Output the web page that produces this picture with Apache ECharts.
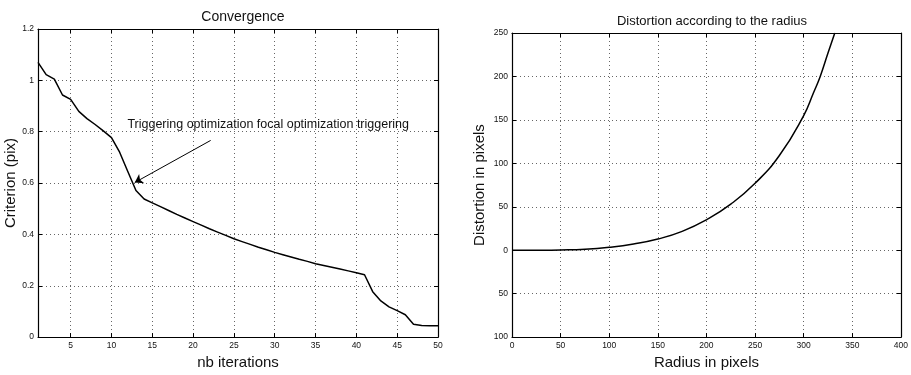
<!DOCTYPE html>
<html>
<head>
<meta charset="utf-8">
<script src="https://cdn.jsdelivr.net/npm/echarts@6.0.0/dist/echarts.min.js"></script>
<style>
  html, body { margin: 0; padding: 0; background: #fff; }
  #main { width: 911px; height: 375px; }
</style>
</head>
<body>
<div id="main"></div>
<script>
// left panel: criterion per iteration
var iterations = [1,2,3,4,5,6,7,8,9,10,11,12,13,14,15,16,17,18,19,20,21,22,23,24,25,
  26,27,28,29,30,31,32,33,34,35,36,37,38,39,40,41,42,43,44,45,46,47,48,49,50]
var criterion = [1.070,1.022,1.005,0.943,0.926,0.879,0.851,0.828,0.803,0.777,0.720,0.645,0.571,0.538,0.523,
  0.508,0.493,0.478,0.464,0.450,0.436,0.422,0.409,0.396,0.383,0.372,0.361,0.350,0.340,0.330,
  0.321,0.312,0.303,0.295,0.286,0.279,0.272,0.265,0.258,0.251,0.243,0.177,0.141,0.118,0.103,
  0.087,0.050,0.045,0.044,0.044]
var iterTicks = [5,10,15,20,25,30,35,40,45,50]

// right panel: distortion vs radius
var radius =     [0, 25,   50,  75,  100, 125, 150,  175,  200, 225, 250, 275, 300, 310, 317, 325, 332]
var distortion = [0, 0.05, 0.3, 1.1, 3.4, 7.2, 12.9, 21.7, 35,  53,  77,  109, 155, 181, 200, 227, 250]

var annotationText = 'Triggering optimization focal optimization triggering'
var textAt = [11.95, 0.826]
var arrowFrom = [22.15, 0.766]
var arrowTo = [12.85, 0.602]

var myChart = echarts.init(document.getElementById('main'))

var font = 'Liberation Sans, Arial, Helvetica, sans-serif'
var ink = '#111'

let axisLine = { show: true, onZero: false, lineStyle: { color: '#000', width: 1.2 } }
let splitLine = { show: true, lineStyle: { color: '#666', type: [1, 3], width: 1 } }
let tickLabel = { color: ink, fontSize: 8.5, fontFamily: font }
let nameStyle = { color: ink, fontSize: 15, fontFamily: font }

let pairs = iterations.map(function (v, i) { return [v, criterion[i]] })
let distPairs = radius.map(function (v, i) { return [v, distortion[i]] })

myChart.setOption({
    animation: false,
    title: [{
        text: 'Convergence',
        left: 238, top: 5, textAlign: 'center',
        textStyle: { fontSize: 14, fontWeight: 'normal', color: ink, fontFamily: font }
    }, {
        text: 'Distortion according to the radius',
        left: 707, top: 10, textAlign: 'center',
        textStyle: { fontSize: 13, fontWeight: 'normal', color: ink, fontFamily: font }
    }],
    grid: [
        { left: 38, right: 473, top: 29, bottom: 31 },
        { left: 512, right: 8, top: 33, bottom: 35 }
    ],
    xAxis: [{
        gridIndex: 0, type: 'value', min: 1, max: 50,
        name: 'nb iterations', nameLocation: 'middle', nameGap: 14, nameTextStyle: nameStyle,
        axisLine: axisLine,
        axisTick: { inside: true, length: 4, customValues: iterTicks },
        axisLabel: Object.assign({ customValues: iterTicks, margin: 4 }, tickLabel),
        splitLine: splitLine
    }, {
        gridIndex: 0, type: 'value', min: 1, max: 50, position: 'top',
        axisLine: axisLine,
        axisTick: { inside: true, length: 4, customValues: iterTicks },
        axisLabel: { show: false, customValues: iterTicks },
        splitLine: { show: false }
    }, {
        gridIndex: 1, type: 'value', min: 0, max: 400, interval: 50,
        name: 'Radius in pixels', nameLocation: 'middle', nameGap: 14, nameTextStyle: nameStyle,
        axisLine: axisLine,
        axisTick: { inside: true, length: 4 },
        axisLabel: Object.assign({ margin: 4 }, tickLabel),
        splitLine: splitLine
    }, {
        gridIndex: 1, type: 'value', min: 0, max: 400, interval: 50, position: 'top',
        axisLine: axisLine,
        axisTick: { inside: true, length: 4 },
        axisLabel: { show: false },
        splitLine: { show: false }
    }],
    yAxis: [{
        gridIndex: 0, type: 'value', min: 0, max: 1.2, interval: 0.2,
        name: 'Criterion (pix)', nameLocation: 'middle', nameGap: 19, nameTextStyle: nameStyle,
        axisLine: axisLine,
        axisTick: { inside: true, length: 4 },
        axisLabel: Object.assign({ margin: 4 }, tickLabel),
        splitLine: splitLine
    }, {
        gridIndex: 0, type: 'value', min: 0, max: 1.2, interval: 0.2, position: 'right',
        axisLine: axisLine,
        axisTick: { inside: true, length: 4 },
        axisLabel: { show: false },
        splitLine: { show: false }
    }, {
        gridIndex: 1, type: 'value', min: -100, max: 250, interval: 50,
        name: 'Distortion in pixels', nameLocation: 'middle', nameGap: 25, nameTextStyle: nameStyle,
        axisLine: axisLine,
        axisTick: { inside: true, length: 4 },
        axisLabel: Object.assign({ margin: 4, formatter: function (v) { return String(Math.abs(v)) } }, tickLabel),
        splitLine: splitLine
    }, {
        gridIndex: 1, type: 'value', min: -100, max: 250, interval: 50, position: 'right',
        axisLine: axisLine,
        axisTick: { inside: true, length: 4 },
        axisLabel: { show: false },
        splitLine: { show: false }
    }],
    series: [{
        name: 'criterion',
        type: 'line',
        xAxisIndex: 0, yAxisIndex: 0,
        data: pairs,
        showSymbol: false,
        lineStyle: { color: '#000', width: 1.5 },
        markLine: {
            silent: true,
            symbol: ['none', 'arrow'],
            symbolSize: 8,
            label: { show: false },
            lineStyle: { color: '#000', width: 1, type: 'solid' },
            data: [[{ coord: arrowFrom, symbol: 'none' }, { coord: arrowTo, symbol: 'arrow', symbolSize: 8 }]]
        },
        markPoint: {
            silent: true,
            symbol: 'circle', symbolSize: 0,
            label: {
                show: true, position: 'right', distance: 0,
                formatter: annotationText,
                color: ink, fontSize: 12.5, fontFamily: font
            },
            data: [{ coord: textAt }]
        }
    }, {
        name: 'distortion',
        type: 'line',
        xAxisIndex: 2, yAxisIndex: 2,
        data: distPairs,
        smooth: true,
        showSymbol: false,
        clip: true,
        lineStyle: { color: '#000', width: 1.5 }
    }]
})
</script>
</body>
</html>
